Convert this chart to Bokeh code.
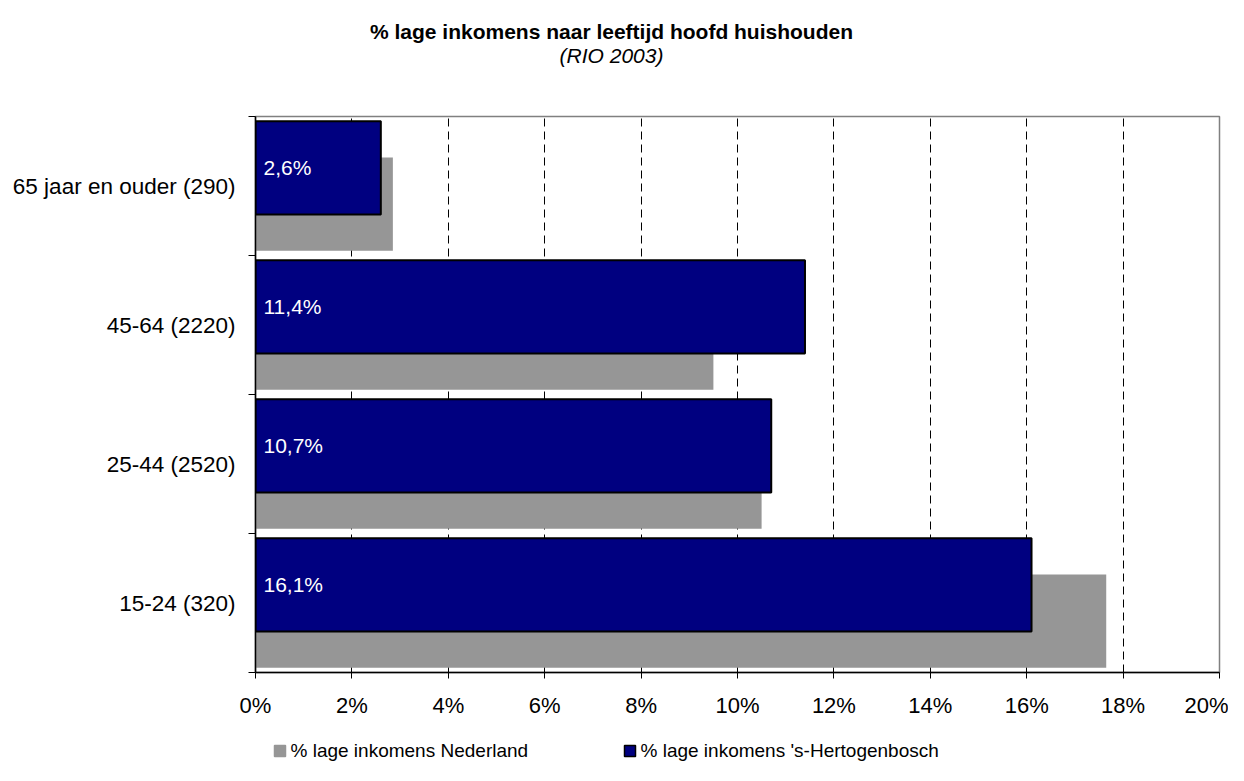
from bokeh.plotting import figure
from bokeh.layouts import column
from bokeh.models import Range1d, FixedTicker, NumeralTickFormatter, ColumnDataSource
from bokeh.core.properties import value
from bokeh.embed import file_html
from bokeh.resources import INLINE

categories = ["15-24 (320)", "25-44 (2520)", "45-64 (2220)", "65 jaar en ouder (290)"]
nederland = [17.65, 10.5, 9.5, 2.85]
hertogenbosch = [16.1, 10.7, 11.4, 2.6]
x_ticks = [0, 2, 4, 6, 8, 10, 12, 14, 16, 18, 20]
series_names = ["% lage inkomens Nederland", "% lage inkomens 's-Hertogenbosch"]
title_text = "% lage inkomens naar leeftijd hoofd huishouden"
subtitle_text = "(RIO 2003)"

FONT = "Liberation Sans"
W = 1228
H_TITLE = 80
H_MAIN = 645
H_LEG = 40
FRAME_L, FRAME_R, FRAME_T, FRAME_B = 255, 1219, 116, 672   # page pixels
BLUE = "#000080"
GRAY = "#969696"
SERIES_COLORS = [GRAY, BLUE]


def blank_fig(height, y0, y1):
    # frames in a column are aligned with the main chart's frame,
    # so map the x range onto the page pixels of that frame
    f = figure(width=W, height=height, output_backend="svg", toolbar_location=None,
               x_range=Range1d(FRAME_L, FRAME_R), y_range=Range1d(y1, y0),
               x_axis_type=None, y_axis_type=None,
               min_border_left=FRAME_L, min_border_right=W - FRAME_R,
               min_border_top=0, min_border_bottom=0)
    f.outline_line_color = None
    f.grid.grid_line_color = None
    f.background_fill_color = "white"
    f.border_fill_color = "white"
    return f


# ---------- title ----------
pt = blank_fig(H_TITLE, 0, H_TITLE)
TITLE_CX = 611
pt.text(x=[TITLE_CX], y=[31], text=[title_text], text_font=value(FONT),
        text_font_size="21px", text_font_style="bold", text_color="black",
        text_align="center", text_baseline="middle")
pt.text(x=[TITLE_CX], y=[55], text=[subtitle_text], text_font=value(FONT),
        text_font_size="21px", text_font_style="italic", text_color="black",
        text_align="center", text_baseline="middle")

# ---------- main chart ----------
p = figure(width=W, height=H_MAIN, output_backend="svg", toolbar_location=None,
           x_range=Range1d(0, 0.20), y_range=Range1d(0, len(categories)),
           min_border_left=FRAME_L, min_border_right=W - FRAME_R,
           min_border_top=FRAME_T - H_TITLE,
           min_border_bottom=H_TITLE + H_MAIN - FRAME_B)
p.outline_line_color = "#808080"
p.outline_line_width = 1.5
p.background_fill_color = "white"
p.border_fill_color = "white"

centers = [i + 0.5 for i in range(len(categories))]
src = ColumnDataSource(dict(
    cat=categories,
    yn=[c - 0.13 for c in centers],
    yh=[c + 0.13 for c in centers],
    ned=[v / 100 for v in nederland],
    hb=[v / 100 for v in hertogenbosch],
    lab=[f"{v:.1f}".replace(".", ",") + "%" for v in hertogenbosch],
))

p.hbar(y="yn", left=0, right="ned", height=0.67, source=src,
       fill_color=GRAY, line_color=None)
p.hbar(y="yh", left=0, right="hb", height=0.67, source=src,
       fill_color=BLUE, line_color="black", line_width=2)

p.text(x=0, y="yh", text="lab", source=src, x_offset=8,
       text_color="white", text_font=value(FONT),
       text_font_size="21px", text_align="left", text_baseline="middle")

# x axis
p.xaxis.ticker = FixedTicker(ticks=[t / 100 for t in x_ticks])
p.xaxis.formatter = NumeralTickFormatter(format="0%")
p.xaxis.major_label_text_font = FONT
p.xaxis.major_label_text_font_size = "22px"
p.xaxis.major_label_text_color = "black"
p.xaxis.major_tick_out = 6
p.xaxis.major_tick_in = 0
p.xaxis.minor_tick_line_color = None
p.xaxis.axis_line_width = 1.5
p.xaxis.axis_line_color = "black"
p.xaxis.major_tick_line_color = "black"
p.xaxis.major_label_standoff = 14

# y axis
p.yaxis.ticker = FixedTicker(ticks=centers, minor_ticks=list(range(len(categories) + 1)))
p.yaxis.major_label_overrides = {c: cat for c, cat in zip(centers, categories)}
p.yaxis.major_label_text_font = FONT
p.yaxis.major_label_text_font_size = "22.5px"
p.yaxis.major_label_text_color = "black"
p.yaxis.major_tick_out = 0
p.yaxis.major_tick_in = 0
p.yaxis.minor_tick_out = 7
p.yaxis.minor_tick_in = 0
p.yaxis.minor_tick_line_color = "black"
p.yaxis.axis_line_width = 1.5
p.yaxis.axis_line_color = "black"
p.yaxis.major_label_standoff = 13

# grid
p.ygrid.grid_line_color = None
p.xgrid.ticker = FixedTicker(ticks=[t / 100 for t in x_ticks[1:-1]])
p.xgrid.grid_line_color = "black"
p.xgrid.grid_line_dash = "8 5"
p.xgrid.grid_line_width = 1

# ---------- legend ----------
top_leg = H_TITLE + H_MAIN
pl = blank_fig(H_LEG, top_leg, top_leg + H_LEG)
LEG_Y = 750
LEG_TEXT_X = [290, 640]
SW = 11
pl.rect(x=[tx - 5 - SW / 2 for tx in LEG_TEXT_X], y=[LEG_Y + 0.5] * 2,
        width=SW, height=SW, fill_color=SERIES_COLORS,
        line_color=[GRAY, "black"], line_width=1.5)
pl.text(x=LEG_TEXT_X, y=[LEG_Y] * 2, text=series_names, text_font=value(FONT),
        text_font_size="19px", text_color="black", text_align="left",
        text_baseline="middle")

layout = column(pt, p, pl, spacing=0)
open("out.html", "w").write(file_html(layout, INLINE))
